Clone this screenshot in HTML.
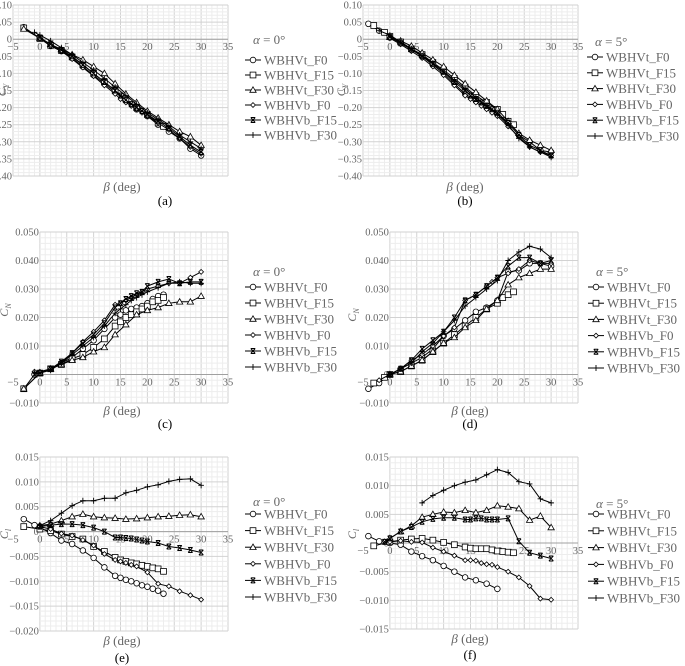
<!DOCTYPE html>
<html><head><meta charset="utf-8"><style>
html,body{margin:0;padding:0;background:#fff;}
svg{display:block;}
text{font-family:"Liberation Serif","DejaVu Serif",serif;}
</style></head><body>
<svg id="fig" width="685" height="666" viewBox="0 0 685 666" xmlns="http://www.w3.org/2000/svg" font-family="Liberation Serif, serif"></svg>
<script>
const seriesNames = ["WBHVt_F0","WBHVt_F15","WBHVt_F30","WBHVb_F0","WBHVb_F15","WBHVb_F30"];
const xTicks = [-5,0,5,10,15,20,25,30,35];

const aB0=[-3,0,2,4,6,8,10,12,14,16,18,20,22,24,26,28,30];
const aV0=[0.035,0.003,-0.02,-0.035,-0.055,-0.08,-0.105,-0.13,-0.155,-0.18,-0.205,-0.225,-0.25,-0.27,-0.29,-0.32,-0.34];
const aB1=[-3,0,2,4,6,8,10,12,14,16,18,20,22,23];
const aV1=[0.033,0.002,-0.018,-0.033,-0.052,-0.075,-0.1,-0.125,-0.15,-0.175,-0.2,-0.22,-0.245,-0.255];
const aB2=[-3,0,2,4,6,8,10,12,14,16,18,20,22,24,26,28,30];
const aV2=[0.03,0.003,-0.015,-0.03,-0.045,-0.06,-0.08,-0.1,-0.13,-0.16,-0.185,-0.21,-0.23,-0.25,-0.27,-0.285,-0.31];
const aB3=[0,2,4,6,8,10,12,14,15,16,17,18,19,20,22,24,26,28,30];
const aV3=[0.002,-0.02,-0.035,-0.058,-0.083,-0.108,-0.135,-0.16,-0.175,-0.185,-0.195,-0.205,-0.215,-0.225,-0.245,-0.265,-0.29,-0.315,-0.335];
const aB4=[0,2,4,6,8,10,12,14,15,16,17,18,19,20,22,24,26,28,30];
const aV4=[0.005,-0.015,-0.032,-0.05,-0.075,-0.1,-0.125,-0.15,-0.165,-0.178,-0.19,-0.2,-0.21,-0.22,-0.24,-0.26,-0.285,-0.31,-0.33];
const aB5=[-1,0,2,4,6,8,10,12,14,16,18,20,22,24,26,28,30];
const aV5=[0.02,0.012,-0.005,-0.025,-0.045,-0.068,-0.09,-0.115,-0.14,-0.165,-0.19,-0.215,-0.235,-0.255,-0.28,-0.3,-0.32];

const bB0=[-4,-2,0,2,4,6,8,10,12,14,16,18,20,22,24,26,28,30];
const bV0=[0.045,0.025,0.005,-0.01,-0.03,-0.05,-0.075,-0.1,-0.13,-0.16,-0.18,-0.2,-0.22,-0.245,-0.28,-0.3,-0.325,-0.33];
const bB1=[-3,-1,0,2,4,6,8,10,12,14,16,18,20,21,22,23];
const bV1=[0.04,0.02,0.008,-0.008,-0.028,-0.045,-0.068,-0.09,-0.115,-0.14,-0.165,-0.185,-0.205,-0.22,-0.24,-0.25];
const bB2=[0,2,4,6,8,10,12,14,16,18,20,22,24,26,28,30];
const bV2=[0.006,-0.005,-0.02,-0.04,-0.06,-0.08,-0.105,-0.13,-0.155,-0.18,-0.205,-0.24,-0.275,-0.295,-0.31,-0.325];
const bB3=[0,2,4,6,8,10,12,14,15,16,17,18,19,20,22,24,26,28,30];
const bV3=[0.003,-0.015,-0.035,-0.055,-0.08,-0.105,-0.135,-0.165,-0.175,-0.185,-0.195,-0.205,-0.215,-0.225,-0.255,-0.285,-0.315,-0.33,-0.34];
const bB4=[0,2,4,6,8,10,12,14,15,16,17,18,19,20,22,24,26,28,30];
const bV4=[0.006,-0.012,-0.03,-0.05,-0.072,-0.095,-0.125,-0.15,-0.165,-0.175,-0.185,-0.195,-0.205,-0.215,-0.245,-0.28,-0.31,-0.325,-0.34];
const bB5=[-2,0,2,4,6,8,10,12,14,16,18,20,22,24,26,28,30];
const bV5=[0.025,0.012,-0.008,-0.028,-0.048,-0.07,-0.095,-0.12,-0.145,-0.17,-0.195,-0.22,-0.25,-0.29,-0.315,-0.33,-0.345];

const cB0=[-3,-1,0,2,4,6,8,10,12,14,15,16,17,18,19,20,21,22,23];
const cV0=[-0.005,0,0.0005,0.002,0.004,0.006,0.009,0.012,0.016,0.02,0.021,0.0225,0.023,0.0235,0.024,0.025,0.0265,0.0275,0.028];
const cB1=[-3,0,2,4,6,8,10,12,14,15,16,17,18,19,20,21,22,23];
const cV1=[-0.005,0.0005,0.002,0.0035,0.0055,0.007,0.0095,0.0125,0.017,0.0185,0.02,0.021,0.022,0.023,0.024,0.0255,0.026,0.027];
const cB2=[-3,0,2,4,6,8,10,12,14,16,18,20,22,24,26,28,30];
const cV2=[-0.005,0.0005,0.002,0.0035,0.005,0.006,0.008,0.0095,0.014,0.0175,0.021,0.0225,0.0235,0.025,0.0255,0.0255,0.0275];
const cB3=[-1,0,2,4,6,8,10,12,14,15,16,17,18,19,20,22,24,26,28,30];
const cV3=[0.001,0.001,0.002,0.004,0.0075,0.0115,0.015,0.019,0.0245,0.025,0.026,0.027,0.028,0.029,0.03,0.031,0.032,0.032,0.034,0.036];
const cB4=[-1,0,2,4,6,8,10,12,14,15,16,17,18,19,20,22,24,26,28,30];
const cV4=[0,0.0005,0.002,0.0045,0.0075,0.011,0.014,0.018,0.0235,0.025,0.0265,0.0275,0.0285,0.029,0.031,0.0325,0.0335,0.032,0.0325,0.0325];
const cB5=[-1,0,2,4,6,8,10,12,14,15,16,17,18,19,20,22,24,26,28,30];
const cV5=[0.0005,0.0005,0.0015,0.004,0.007,0.01,0.013,0.017,0.0215,0.023,0.0245,0.026,0.027,0.028,0.029,0.0305,0.032,0.0325,0.032,0.032];

const dB0=[-4,-2,0,2,4,6,8,10,12,14,16,18,20,22,24,26,28,30];
const dV0=[-0.005,-0.003,0,0.002,0.004,0.006,0.009,0.0135,0.016,0.019,0.022,0.0235,0.026,0.036,0.0365,0.039,0.039,0.038];
const dB1=[-3,-1,0,2,4,6,8,10,12,14,16,18,20,21,22,23];
const dV1=[-0.003,-0.001,0,0.001,0.003,0.005,0.008,0.011,0.014,0.017,0.02,0.023,0.025,0.027,0.028,0.029];
const dB2=[0,2,4,6,8,10,12,14,16,18,20,22,24,26,28,30];
const dV2=[0,0.001,0.003,0.005,0.008,0.011,0.013,0.0165,0.019,0.023,0.026,0.0315,0.034,0.0355,0.037,0.037];
const dB3=[-2,0,2,4,6,8,10,12,14,16,18,19,20,22,24,26,28,30];
const dV3=[-0.002,0,0.002,0.005,0.007,0.01,0.0135,0.0165,0.026,0.028,0.031,0.0325,0.034,0.0355,0.037,0.04,0.039,0.039];
const dB4=[0,2,4,6,8,10,12,14,16,18,20,22,24,26,28,30];
const dV4=[0,0.002,0.005,0.009,0.012,0.015,0.02,0.026,0.028,0.031,0.034,0.038,0.041,0.041,0.039,0.04];
const dB5=[0,2,4,6,8,10,12,14,16,18,20,22,24,26,28,30];
const dV5=[0,0.002,0.004,0.008,0.011,0.015,0.019,0.024,0.027,0.03,0.033,0.04,0.043,0.045,0.044,0.041];

const eB0=[-3,-1,0,2,4,6,8,10,12,14,15,16,17,18,19,20,21,22,23];
const eV0=[0.0025,0.0013,0.0008,-0.0003,-0.0018,-0.0025,-0.0038,-0.0053,-0.0072,-0.0089,-0.0093,-0.0097,-0.01,-0.0104,-0.0108,-0.0111,-0.0115,-0.0119,-0.0125];
const eB1=[-3,0,2,4,6,8,10,12,14,15,16,17,18,19,20,21,22,23];
const eV1=[0.001,0.0005,0.0002,-0.0005,-0.001,-0.0015,-0.003,-0.004,-0.0052,-0.0057,-0.006,-0.0063,-0.0065,-0.0068,-0.007,-0.0073,-0.0075,-0.008];
const eB2=[0,2,4,6,8,10,12,14,16,18,20,22,24,26,28,30];
const eV2=[0.0012,0.0015,0.0022,0.003,0.0035,0.003,0.0028,0.0027,0.0025,0.0026,0.0028,0.003,0.0031,0.0033,0.0034,0.003];
const eB3=[0,2,4,6,8,10,12,14,15,16,17,18,20,22,24,26,28,30];
const eV3=[0.001,0.0005,-0.0004,-0.0008,-0.0017,-0.0028,-0.0045,-0.0057,-0.006,-0.0063,-0.0067,-0.007,-0.0082,-0.0105,-0.011,-0.012,-0.0128,-0.0137];
const eB4=[0,2,4,6,8,10,12,14,15,16,17,18,19,20,22,24,26,28,30];
const eV4=[0.001,0.0013,0.0015,0.0015,0.0013,0.0008,0,-0.0012,-0.0012,-0.0013,-0.0014,-0.0016,-0.0018,-0.002,-0.0023,-0.003,-0.0033,-0.0037,-0.0042];
const eB5=[0,2,4,6,8,10,12,14,16,18,20,22,24,26,28,30];
const eV5=[0.0012,0.0022,0.0037,0.0052,0.0062,0.0062,0.0067,0.0067,0.0078,0.0083,0.009,0.0094,0.0101,0.0105,0.0106,0.0093];

const fB0=[-4,-2,0,2,4,6,8,10,12,14,16,18,20];
const fV0=[0.0012,0.0003,0,-0.0003,-0.0015,-0.0023,-0.003,-0.004,-0.005,-0.006,-0.0065,-0.0071,-0.008];
const fB1=[-3,0,2,4,6,8,10,12,14,15,16,17,18,19,20,21,22,23];
const fV1=[-0.0005,0.0002,0.0005,0.0007,0.0008,0.0005,0.0001,-0.0003,-0.0007,-0.0009,-0.001,-0.001,-0.001,-0.0012,-0.0014,-0.0015,-0.0016,-0.0017];
const fB2=[0,2,4,6,8,10,12,14,16,18,20,22,24,26,28,30];
const fV2=[0.0008,0.002,0.003,0.0045,0.005,0.0054,0.0053,0.0057,0.0053,0.0057,0.0065,0.0063,0.006,0.004,0.0047,0.0027];
const fB3=[-1,0,2,4,6,8,10,12,14,15,16,17,18,19,20,22,24,26,28,30];
const fV3=[0.0003,0.0002,0.0004,0.0002,0.0001,-0.0008,-0.0015,-0.0022,-0.003,-0.003,-0.0031,-0.0035,-0.0037,-0.0038,-0.0042,-0.005,-0.006,-0.0075,-0.0097,-0.0099];
const fB4=[-1,0,2,4,6,8,10,12,14,15,16,17,18,19,20,22,24,26,28,30];
const fV4=[0.0002,0.0008,0.002,0.0028,0.0037,0.0042,0.0044,0.0044,0.0041,0.0041,0.0043,0.0043,0.0041,0.0041,0.0041,0.0043,0.0003,-0.0017,-0.0022,-0.0027];
const fB5=[6,8,10,12,14,16,18,20,22,24,26,28,30];
const fV5=[0.007,0.0083,0.0092,0.01,0.0106,0.011,0.0119,0.0128,0.0123,0.0107,0.0103,0.0077,0.007];

const yTicksA=[0.10,0.05,0,-0.05,-0.10,-0.15,-0.20,-0.25,-0.30,-0.35,-0.40];
const yLabA=["0.10","0.05","0","\u22120.05","\u22120.10","\u22120.15","\u22120.20","\u22120.25","\u22120.30","\u22120.35","\u22120.40"];
const yTicksC=[0.05,0.04,0.03,0.02,0.01,0,-0.01];
const yLabC=["0.050","0.040","0.030","0.020","0.010","0","\u22120.010"];
const yTicksE=[0.015,0.01,0.005,0,-0.005,-0.01,-0.015,-0.02];
const yLabE=["0.015","0.010","0.005","0","\u22120.005","\u22120.010","\u22120.015","\u22120.020"];
const yTicksF=[0.015,0.01,0.005,0,-0.005,-0.01,-0.015];
const yLabF=["0.015","0.010","0.005","0","\u22120.005","\u22120.010","\u22120.015"];

const panels=[
 {tag:"(a)",alpha:"0",yt:"Y",x0:13,x1:228,yTop:5,yBot:176,ymax:0.10,ymin:-0.40,g0:-5,yticks:yTicksA,ylabs:yLabA,
  data:[[aB0,aV0],[aB1,aV1],[aB2,aV2],[aB3,aV3],[aB4,aV4],[aB5,aV5]],xl:[122,191],tg:[165,205],lx:245,la:40,le:60,ls:15,yx:6,yy:90},
 {tag:"(b)",alpha:"5",yt:"Y",x0:363,x1:578,yTop:5,yBot:176,ymax:0.10,ymin:-0.40,g0:-5,yticks:yTicksA,ylabs:yLabA,
  data:[[bB0,bV0],[bB1,bV1],[bB2,bV2],[bB3,bV3],[bB4,bV4],[bB5,bV5]],xl:[465,191],tg:[465,205],lx:587,la:42,le:57,ls:15.8,yx:345,yy:90},
 {tag:"(c)",alpha:"0",yt:"N",x0:13,x1:228,yTop:232,yBot:403,ymax:0.05,ymin:-0.01,g0:0,yticks:yTicksC,ylabs:yLabC,
  data:[[cB0,cV0],[cB1,cV1],[cB2,cV2],[cB3,cV3],[cB4,cV4],[cB5,cV5]],xl:[122,415],tg:[165,428],lx:245,la:272,le:287,ls:16,yx:8,yy:310},
 {tag:"(d)",alpha:"5",yt:"N",x0:363,x1:578,yTop:232,yBot:403,ymax:0.05,ymin:-0.01,g0:0,yticks:yTicksC,ylabs:yLabC,
  data:[[dB0,dV0],[dB1,dV1],[dB2,dV2],[dB3,dV3],[dB4,dV4],[dB5,dV5]],xl:[470,415],tg:[470,428],lx:588,la:272,le:287,ls:16.2,yx:356,yy:315},
 {tag:"(e)",alpha:"0",yt:"l",x0:13,x1:228,yTop:457,yBot:631,ymax:0.015,ymin:-0.02,g0:0,yticks:yTicksE,ylabs:yLabE,
  data:[[eB0,eV0],[eB1,eV1],[eB2,eV2],[eB3,eV3],[eB4,eV4],[eB5,eV5]],xl:[122,645],tg:[122,662],lx:245,la:502,le:514,ls:16.6,yx:8,yy:534},
 {tag:"(f)",alpha:"5",yt:"l",x0:363,x1:578,yTop:457,yBot:629,ymax:0.015,ymin:-0.015,g0:0,yticks:yTicksF,ylabs:yLabF,
  data:[[fB0,fV0],[fB1,fV1],[fB2,fV2],[fB3,fV3],[fB4,fV4],[fB5,fV5]],xl:[470,643],tg:[470,659],lx:588,la:504,le:514,ls:16.8,yx:356,yy:534}
];

const NS="http://www.w3.org/2000/svg";
const FF='"Liberation Serif", "DejaVu Serif", serif';
const svg=document.getElementById('fig');
function mk(tag,attrs,parent,text){
  const e=document.createElementNS(NS,tag);
  for(const k in attrs) e.setAttribute(k,attrs[k]);
  if(tag==='text') e.style.fontFamily=FF;
  if(text!==undefined) e.textContent=text;
  parent.appendChild(e); return e;
}
function marker(g,type,x,y){
  const st={fill:"#fff",stroke:"#000","stroke-width":0.8};
  let m;
  if(type===0){m=mk('circle',Object.assign({cx:x,cy:y,r:2.8},st),g);}
  else if(type===1){m=mk('rect',Object.assign({x:x-2.9,y:y-2.9,width:5.8,height:5.8},st),g);}
  else if(type===2){m=mk('path',Object.assign({d:`M${x},${y-3.2}L${x+3.2},${y+2.3}L${x-3.2},${y+2.3}Z`},st),g);}
  else if(type===3){m=mk('path',Object.assign({d:`M${x},${y-2.4}L${x+2.4},${y}L${x},${y+2.4}L${x-2.4},${y}Z`},st),g);}
  else if(type===4){m=mk('path',{d:`M${x-2.2},${y-2.5}L${x+2.2},${y+2.5}M${x+2.2},${y-2.5}L${x-2.2},${y+2.5}M${x-2.2},${y-2.5}H${x+2.2}M${x-2.2},${y+2.5}H${x+2.2}`,stroke:"#000","stroke-width":1,fill:"none"},g);}
  else {m=mk('path',{d:`M${x-2.8},${y}H${x+2.8}M${x},${y-3}V${y+3}`,stroke:"#000","stroke-width":0.9},g);}
  
  
}

panels.forEach((p,pi)=>{
  const g=mk('g',{},svg);
  
  
  const sx=b=>p.x0+(b+5)/40*(p.x1-p.x0);
  const sy=v=>p.yTop+(p.ymax-v)/(p.ymax-p.ymin)*(p.yBot-p.yTop);
  const gx0=sx(p.g0);
  const grid=mk('g',{},g);
  
  
  for(let b=p.g0;b<=35;b++){
    const X=sx(b);
    mk('line',{x1:X,x2:X,y1:p.yTop,y2:p.yBot,stroke:(b%5===0)?"#d2d2d2":"#ededed","stroke-width":1},grid);
  }
  const dy=(p.yticks[0]-p.yticks[1]);
  for(let i=0;i<p.yticks.length;i++){
    const Y=sy(p.yticks[i]);
    if(i<p.yticks.length-1){
      for(let k=1;k<5;k++){
        const Ym=sy(p.yticks[i]-dy*k/5);
        mk('line',{x1:gx0,x2:p.x1,y1:Ym,y2:Ym,stroke:"#ededed","stroke-width":1},grid);
      }
    }
    mk('line',{x1:gx0,x2:p.x1,y1:Y,y2:Y,stroke:"#d2d2d2","stroke-width":1},grid);
  }
  const za=mk('line',{x1:gx0,x2:p.x1,y1:sy(0),y2:sy(0),stroke:"#a0a0a0","stroke-width":1},g);
  
  
  p.yticks.forEach((t,i)=>{
    const tx=mk('text',{x:gx0-1,y:sy(t)+3.5,"text-anchor":"end","font-size":10.5,fill:"#666"},g,p.ylabs[i]);
    
    
  });
  xTicks.forEach(t=>{
    const tx=mk('text',{x:sx(t),y:sy(0)+11,"text-anchor":"middle","font-size":10.5,fill:"#666"},g,String(t).replace('-','\u2212'));
    
    
  });
  const yt=mk('text',{x:p.yx,y:p.yy,"font-size":12,fill:"#666","font-style":"italic",transform:`rotate(-90 ${p.yx} ${p.yy})`,"text-anchor":"middle"},g);
  
  
  mk('tspan',{},yt,'C');
  mk('tspan',{"font-size":8,dy:3},yt,p.yt);
  const xt=mk('text',{x:p.xl[0],y:p.xl[1],"text-anchor":"middle","font-size":13,fill:"#666"},g);
  
  
  mk('tspan',{"font-style":"italic"},xt,'\u03B2');
  mk('tspan',{},xt,' (deg)');
  const tg=mk('text',{x:p.tg[0],y:p.tg[1],"text-anchor":"middle","font-size":13,fill:"#000"},g,p.tag);
  
  
  p.data.forEach((d,si)=>{
    const sg=mk('g',{},g);
    
    
    const pts=d[0].map((b,i)=>sx(b).toFixed(1)+","+sy(d[1][i]).toFixed(1)).join(" ");
    mk('polyline',{points:pts,fill:"none",stroke:"#000","stroke-width":1},sg);
    d[0].forEach((b,i)=>marker(sg,si,sx(b),sy(d[1][i])));
  });
  const lg=mk('g',{},g);
  
  
  const at=mk('text',{x:p.lx+8,y:p.la+4,"font-size":13,fill:"#666"},lg);
  
  
  mk('tspan',{"font-style":"italic"},at,'\u03B1');
  mk('tspan',{},at,' = '+p.alpha+'\u00B0');
  seriesNames.forEach((n,si)=>{
    const y=p.le+si*p.ls;
    const eg=mk('g',{},lg);
    
    
    mk('line',{x1:p.lx,x2:p.lx+16,y1:y,y2:y,stroke:"#000","stroke-width":1},eg);
    marker(eg,si,p.lx+8,y);
    mk('text',{x:p.lx+19,y:y+4.5,"font-size":13,fill:"#666"},eg,n);
  });
});
</script>
</body></html>
